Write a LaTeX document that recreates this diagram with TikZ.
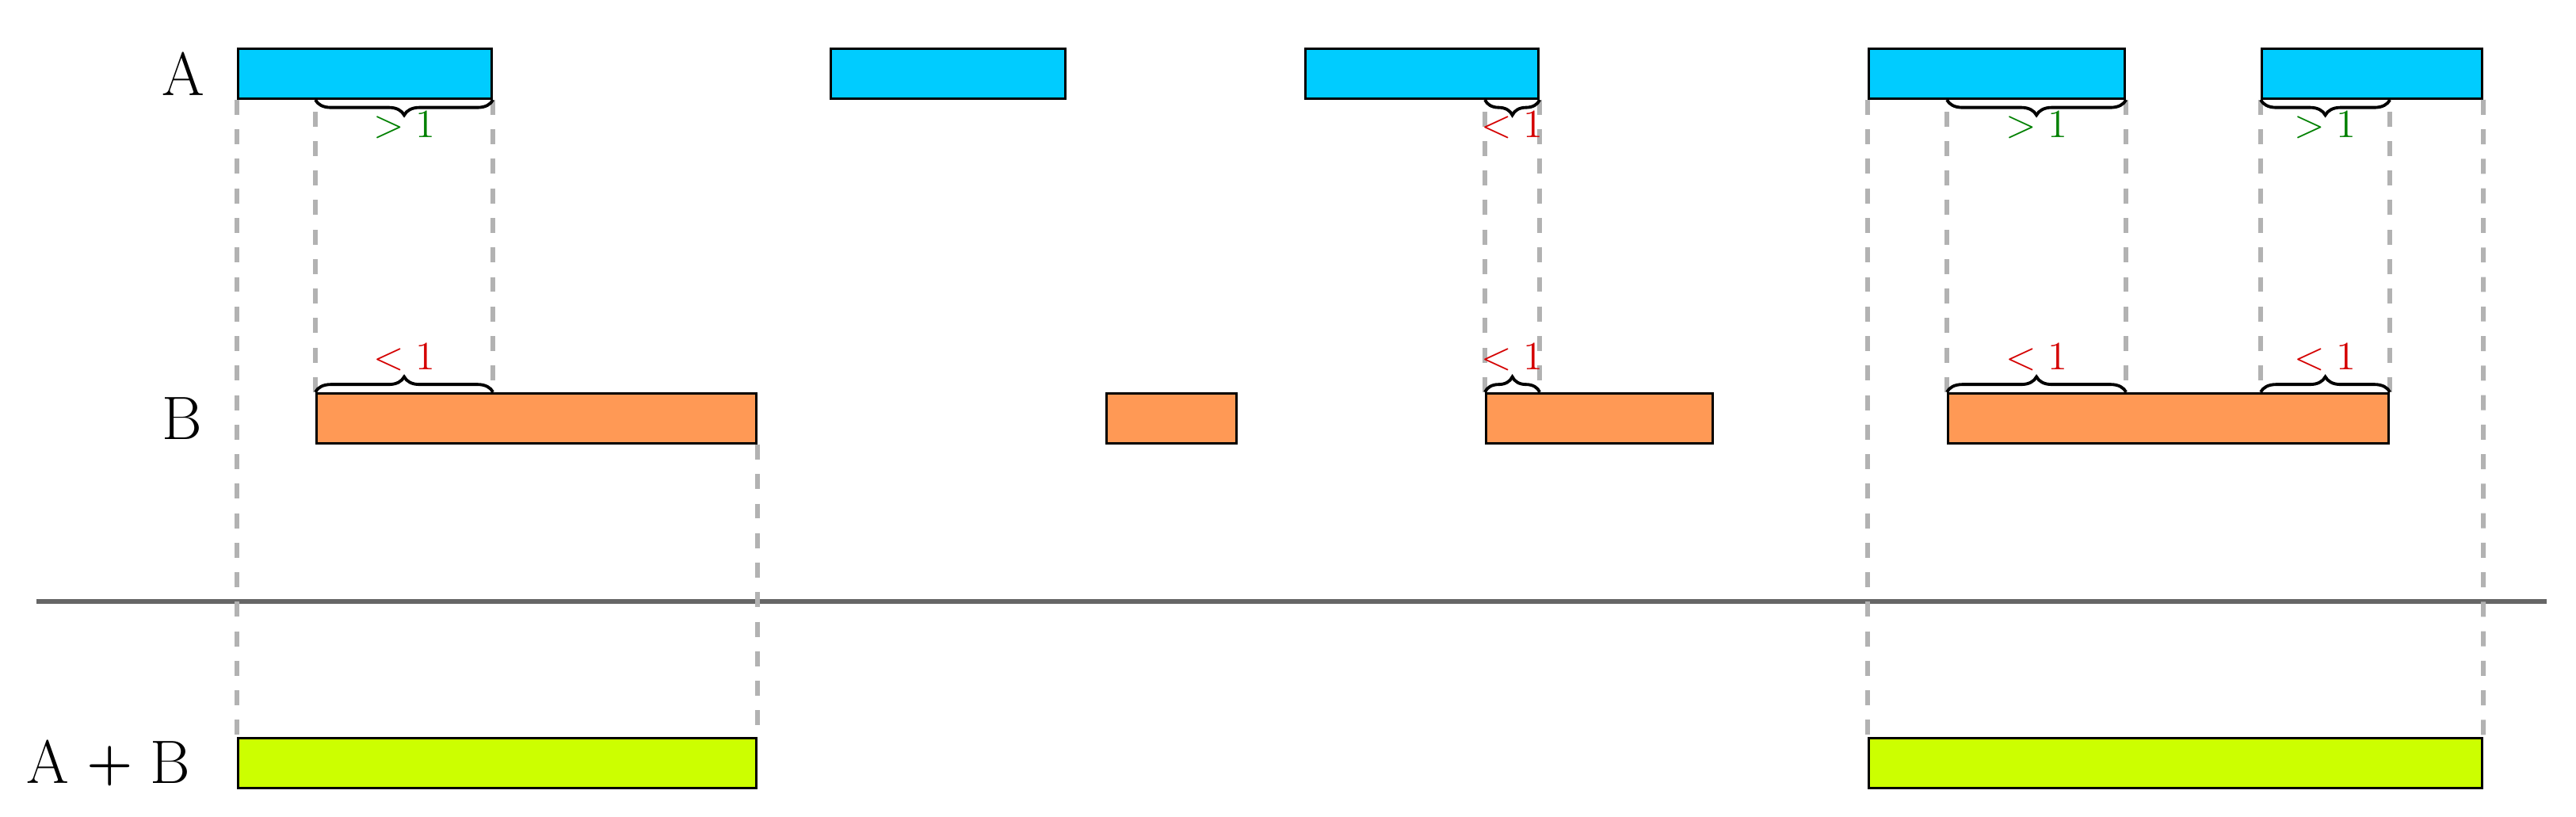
\documentclass[tikz,border=0pt]{standalone}
\usepackage{amsmath,amssymb}
\usepackage{tikz}
\usetikzlibrary{positioning,calc,decorations.pathreplacing}

\definecolor{segA}{HTML}{00CCFF}
\definecolor{segB}{HTML}{FF9955}
\definecolor{segS}{HTML}{CCFF00}
\definecolor{gtxt}{HTML}{008000}
\definecolor{rtxt}{HTML}{D40000}

\tikzset{
	seg/.style={draw,line width=0.9pt,minimum height=0.63cm,inner sep=0pt,anchor=south west},
	guide/.style={draw=black!30,line width=1.7pt,dash pattern=on 5.4pt off 5.2pt},
	brc/.style={decorate,decoration={brace,amplitude=5.5pt},line width=1.1pt},
	lbl/.style={font=\fontsize{22}{26}\selectfont,inner sep=0pt},
	gl/.style={text=gtxt,font=\fontsize{15}{17}\selectfont,inner sep=0pt},
	rl/.style={text=rtxt,font=\fontsize{15}{17}\selectfont,inner sep=0pt}
}

\begin{document}
\begin{tikzpicture}
	\useasboundingbox (0,0) rectangle (32.51,10.31);
	\draw[black!60,line width=1.7pt] (0.46,2.72) -- (32.14,2.72);
	\node[seg,fill=segA,minimum width=3.20cm] (a1) at (2.99,9.05) {};
	\node[seg,fill=segA,minimum width=2.96cm] (a2) at (10.47,9.05) {};
	\node[seg,fill=segA,minimum width=2.94cm] (a3) at (16.46,9.05) {};
	\node[seg,fill=segA,minimum width=3.23cm] (a4) at (23.57,9.05) {};
	\node[seg,fill=segA,minimum width=2.78cm] (a5) at (28.53,9.05) {};
	\node[seg,fill=segB,minimum width=5.55cm] (b1) at (3.98,4.70) {};
	\node[seg,fill=segB,minimum width=1.64cm] (b2) at (13.95,4.70) {};
	\node[seg,fill=segB,minimum width=2.86cm] (b3) at (18.74,4.70) {};
	\node[seg,fill=segB,minimum width=5.56cm] (b4) at (24.57,4.70) {};
	\node[seg,fill=segS,minimum width=6.54cm] (s1) at (2.99,0.35) {};
	\node[seg,fill=segS,minimum width=7.74cm] (s2) at (23.57,0.35) {};
	\node[lbl,left=0.40cm of a1] (la) {A};
	\node[lbl,anchor=west] (lb) at (la.west |- b1) {B};
	\node[lbl,left=0.58cm of s1] (ls) {A\hspace{0.22cm}\raisebox{1.5pt}{\fontsize{19}{20}\selectfont\textbf{+}}\hspace{0.22cm}B};
	\draw[guide] (a1.south west) -- (s1.north west);
	\draw[guide] (b1.north west) -- (b1.north west |- a1.south);
	\draw[guide] (a1.south east) -- (a1.south east |- b1.north);
	\draw[guide] (b1.south east) -- (s1.north east);
	\draw[guide] (b3.north west) -- (b3.north west |- a3.south);
	\draw[guide] (a3.south east) -- (a3.south east |- b3.north);
	\draw[guide] (a4.south west) -- (s2.north west);
	\draw[guide] (b4.north west) -- (b4.north west |- a4.south);
	\draw[guide] (a4.south east) -- (a4.south east |- b4.north);
	\draw[guide] (a5.south west) -- (a5.south west |- b4.north);
	\draw[guide] (b4.north east) -- (b4.north east |- a5.south);
	\draw[guide] (a5.south east) -- (s2.north east);
	\draw[brc] (a1.south east) -- (b1.west |- a1.south) node[gl,midway,below=3.7pt] (g1) {$>1$};
	\draw[brc] (a3.south east) -- (b3.west |- a3.south) node[rl,midway,below=3.7pt] (r1) {$<1$};
	\draw[brc] (a4.south east) -- (b4.west |- a4.south) node[gl,midway,below=3.7pt] (g2) {$>1$};
	\draw[brc] (b4.east |- a5.south) -- (a5.south west) node[gl,midway,below=3.7pt] (g3) {$>1$};
	\draw[brc] (b1.north west) -- (a1.east |- b1.north) node[rl,midway,above=7pt] (r2) {$<1$};
	\draw[brc] (b3.north west) -- (a3.east |- b3.north) node[rl,midway,above=7pt] (r3) {$<1$};
	\draw[brc] (b4.north west) -- (a4.east |- b4.north) node[rl,midway,above=7pt] (r4) {$<1$};
	\draw[brc] (a5.west |- b4.north) -- (b4.north east) node[rl,midway,above=7pt] (r5) {$<1$};
\end{tikzpicture}
\end{document}
